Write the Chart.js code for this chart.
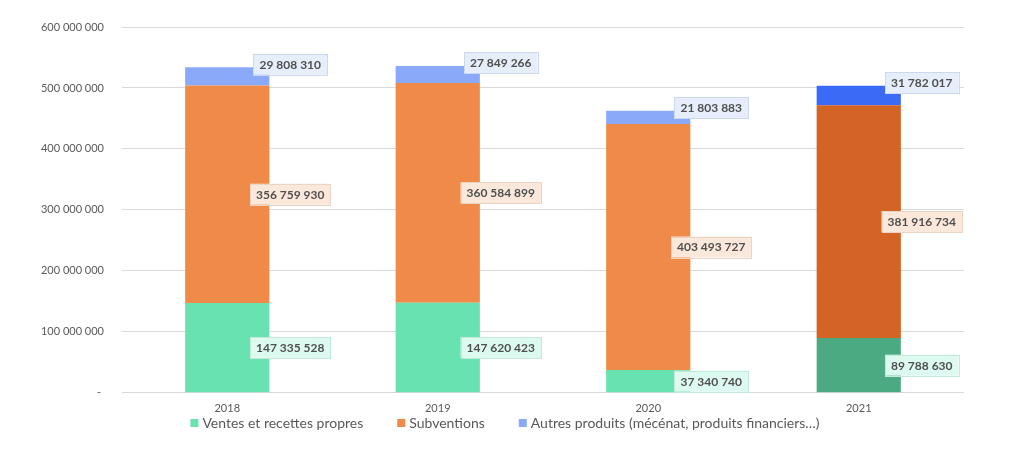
<!DOCTYPE html>
<html lang="fr">
<head>
<meta charset="utf-8">
<title>Produits 2018-2021</title>
<script src="https://cdn.jsdelivr.net/npm/chart.js@4/dist/chart.umd.min.js"></script>
<style>
  html, body { margin: 0; padding: 0; background: #fff; }
  canvas { display: block; }
</style>
</head>
<body>
<canvas id="produitsChart" width="1024" height="454"></canvas>
<script>
// données
const annees = ['2018', '2019', '2020', '2021'];
const ventes = [147335528, 147620423, 37340740, 89788630];
const subventions = [356759930, 360584899, 403493727, 381916734];
const autres = [29808310, 27849266, 21803883, 31782017];
const yTickLabels = ['- ', '100 000 000', '200 000 000', '300 000 000', '400 000 000', '500 000 000', '600 000 000'];

const gris = '#595959';
Chart.defaults.font.family = 'Lato, "Open Sans", sans-serif';
Chart.defaults.color = gris;

function formatNombre(v) {
    return String(v).replace(/\B(?=(\d{3})+(?!\d))/g, ' ');
}

// étiquettes de valeurs + légende dessinées à la main
const etiquettes = {
    id: 'etiquettes',
    afterDatasetsDraw(chart) {
        const ctx = chart.ctx;
        ctx.save();
        ctx.font = 'bold 12px Lato, sans-serif';
        ctx.textAlign = 'center';
        ctx.textBaseline = 'middle';
        chart.data.datasets.forEach(function (ds, i) {
            const meta = chart.getDatasetMeta(i);
            meta.data.forEach(function (bar, j) {
                const txt = formatNombre(ds.data[j]);
                const x = bar.x + 63;
                const y = i === 2 ? bar.y - 3 : (bar.y + bar.base) / 2;
                const w = ctx.measureText(txt).width + 12;
                const h = 21;
                ctx.fillStyle = ds.labelBg;
                ctx.fillRect(x - w / 2, y - h / 2, w, h);
                ctx.strokeStyle = ds.labelBorder;
                ctx.lineWidth = 1;
                ctx.strokeRect(Math.round(x - w / 2) + 0.5, Math.round(y - h / 2) + 0.5, Math.round(w), h);
                ctx.fillStyle = '#505050';
                ctx.fillText(txt, x, y + 0.5);
            });
        });
        ctx.restore();
    },
    afterDraw(chart) {
        const ctx = chart.ctx;
        ctx.save();
        ctx.font = '14px Lato, sans-serif';
        ctx.textBaseline = 'middle';
        const carre = 8, ecart = 4, espace = 34;
        const items = chart.data.datasets.map(function (ds) {
            return { texte: ds.label, couleur: ds.backgroundColor[0], w: carre + ecart + ctx.measureText(ds.label).width };
        });
        const total = items.reduce(function (s, it) { return s + it.w; }, 0) + espace * (items.length - 1);
        let x = chart.width / 2 - 7 - total / 2;
        const y = 423;
        items.forEach(function (it) {
            ctx.fillStyle = it.couleur;
            ctx.fillRect(x, y - carre / 2, carre, carre);
            ctx.fillStyle = gris;
            ctx.fillText(it.texte, x + carre + ecart, y);
            x += it.w + espace;
        });
        ctx.restore();
    }
};

new Chart(document.getElementById('produitsChart'), {
    type: 'bar',
    data: {
        labels: annees,
        datasets: [
            {
                label: 'Ventes et recettes propres',
                data: ventes,
                backgroundColor: ['#68e2b0', '#68e2b0', '#68e2b0', '#4caa82'],
                labelBg: '#dcfaf0',
                labelBorder: '#c4e8da'
            },
            {
                label: 'Subventions',
                data: subventions,
                backgroundColor: ['#ef8a48', '#ef8a48', '#ef8a48', '#d46326'],
                labelBg: '#fbe8db',
                labelBorder: '#ecd4c3'
            },
            {
                label: 'Autres produits (mécénat, produits financiers…)',
                data: autres,
                backgroundColor: ['#8aa9f8', '#8aa9f8', '#8aa9f8', '#3b6bf6'],
                labelBg: '#e6eefc',
                labelBorder: '#ccd8f0'
            }
        ]
    },
    options: {
        responsive: false,
        animation: false,
        layout: { padding: { left: 0, right: 60, top: 27, bottom: 30 } },
        datasets: { bar: { barPercentage: 0.4, categoryPercentage: 1.0 } },
        plugins: {
            legend: { display: false },
            tooltip: { enabled: false }
        },
        scales: {
            x: {
                stacked: true,
                grid: { display: false, drawTicks: false },
                border: { display: false },
                ticks: { padding: 9, font: { size: 11 }, color: gris }
            },
            y: {
                stacked: true,
                min: 0,
                max: 600000000,
                afterFit: function (scale) { scale.width = 122; },
                grid: { color: '#d9d9d9', drawTicks: false },
                border: { display: false },
                ticks: {
                    stepSize: 100000000,
                    padding: 18,
                    font: { size: 11 },
                    color: gris,
                    callback: function (value, index) { return yTickLabels[index]; }
                }
            }
        }
    },
    plugins: [etiquettes]
});
</script>
</body>
</html>
